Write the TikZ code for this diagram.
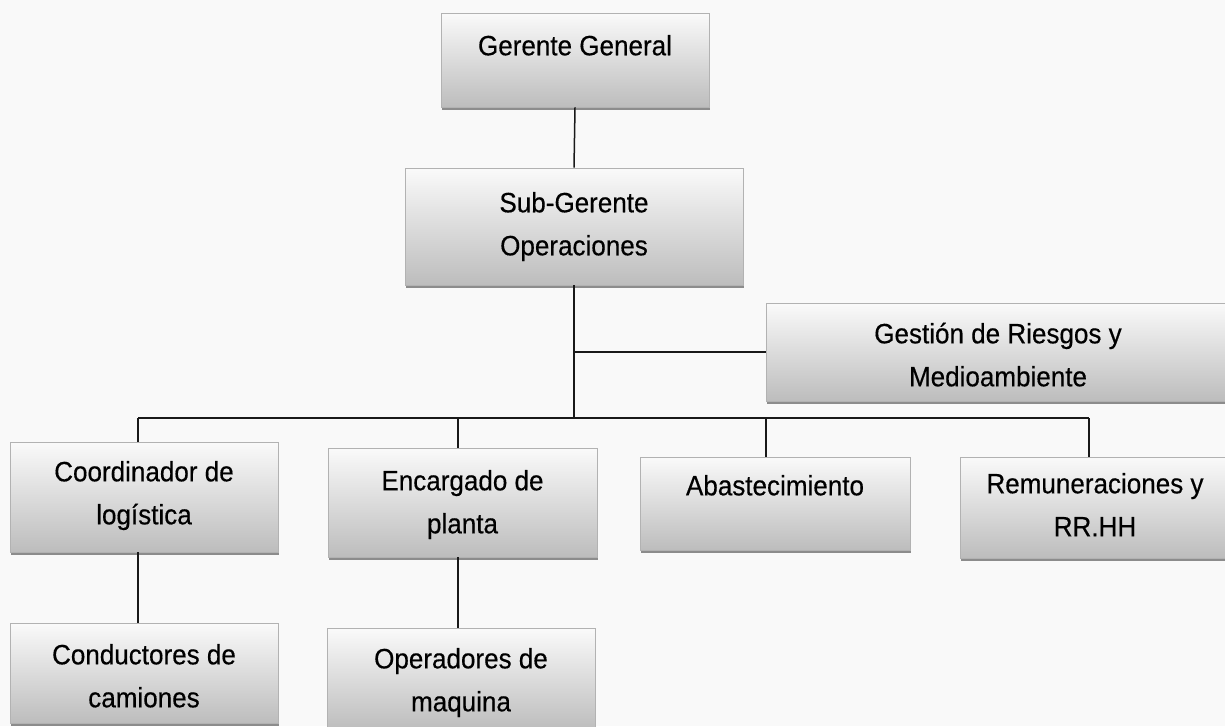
\documentclass[tikz,border=0pt]{standalone}
\usepackage{fontspec}
\setmainfont{Liberation Sans}[FakeStretch=0.93,FakeBold=0.4]
\usetikzlibrary{shadows}
\tikzset{
  orgbox/.style={rectangle, draw=gray!60, line width=0.8pt, top color=gray!4, bottom color=gray!52,
    inner sep=0pt, drop shadow={shadow xshift=1.2pt, shadow yshift=-3pt, fill=gray!90, opacity=1}},
  orgtext/.style={anchor=north, align=center, inner sep=0pt, font=\fontsize{28}{43}\selectfont, text=black},
  link/.style={draw=black!90, line width=1.5pt}
}
\begin{document}
\begin{tikzpicture}[x=1pt,y=-1pt]
\useasboundingbox (0,0) rectangle (1225,726);
\clip (0,0) rectangle (1225,726);
\fill[gray!5] (0,0) rectangle (1225,726);

% boxes
\node[orgbox, minimum width=268pt, minimum height=94pt]  (gg)    at (575,60) {};
\node[orgbox, minimum width=338pt, minimum height=117pt] (sub)   at (574,226.5) {};
\node[orgbox, minimum width=464pt, minimum height=98pt]  (gest)  at (998,352) {};
\node[orgbox, minimum width=268pt, minimum height=110pt] (coord) at (144,497) {};
\node[orgbox, minimum width=269pt, minimum height=109pt] (enc)   at (462.5,502.5) {};
\node[orgbox, minimum width=270pt, minimum height=93pt]  (abast) at (775,503.5) {};
\node[orgbox, minimum width=270pt, minimum height=101pt] (rem)   at (1095,507.5) {};
\node[orgbox, minimum width=268pt, minimum height=100pt] (cond)  at (144,673) {};
\node[orgbox, minimum width=268pt, minimum height=102pt] (oper)  at (461,679) {};

% texts
\node[orgtext] (ggT)    at (575,25)    {\strut Gerente General};
\node[orgtext] (subT)   at (574,182)   {\strut Sub-Gerente\\Operaciones};
\node[orgtext] (gestT)  at (998,313)   {\strut Gestión de Riesgos y\\Medioambiente};
\node[orgtext] (coordT) at (144,451)   {\strut Coordinador de\\logística};
\node[orgtext] (encT)   at (462.5,460) {\strut Encargado de\\planta};
\node[orgtext] (abastT) at (775,465)   {\strut Abastecimiento};
\node[orgtext] (remT)   at (1095,463)  {\strut Remuneraciones y\\RR.HH};
\node[orgtext] (condT)  at (144,634)   {\strut Conductores de\\camiones};
\node[orgtext] (operT)  at (461,638)   {\strut Operadores de\\maquina};

% connector points
\coordinate (busC) at (574,418);
\coordinate (busL) at (138,418);
\coordinate (busR) at (1089,418);
\coordinate (brG)  at (574,352);
\coordinate (dEnc) at (458,418);
\coordinate (dAb)  at (766,418);

% connectors
\draw[link] (gg.south) -- (sub.north);
\draw[link] (sub.south) -- (busC);
\draw[link] (brG) -- (gest.west);
\draw[link] (busL) -- (busR);
\draw[link] (busL) -- (busL |- coord.north);
\draw[link] (dEnc) -- (dEnc |- enc.north);
\draw[link] (dAb) -- (dAb |- abast.north);
\draw[link] (busR) -- (busR |- rem.north);
\draw[link] (busL |- coord.south) -- (busL |- cond.north);
\draw[link] (dEnc |- enc.south) -- (dEnc |- oper.north);
\end{tikzpicture}
\end{document}
